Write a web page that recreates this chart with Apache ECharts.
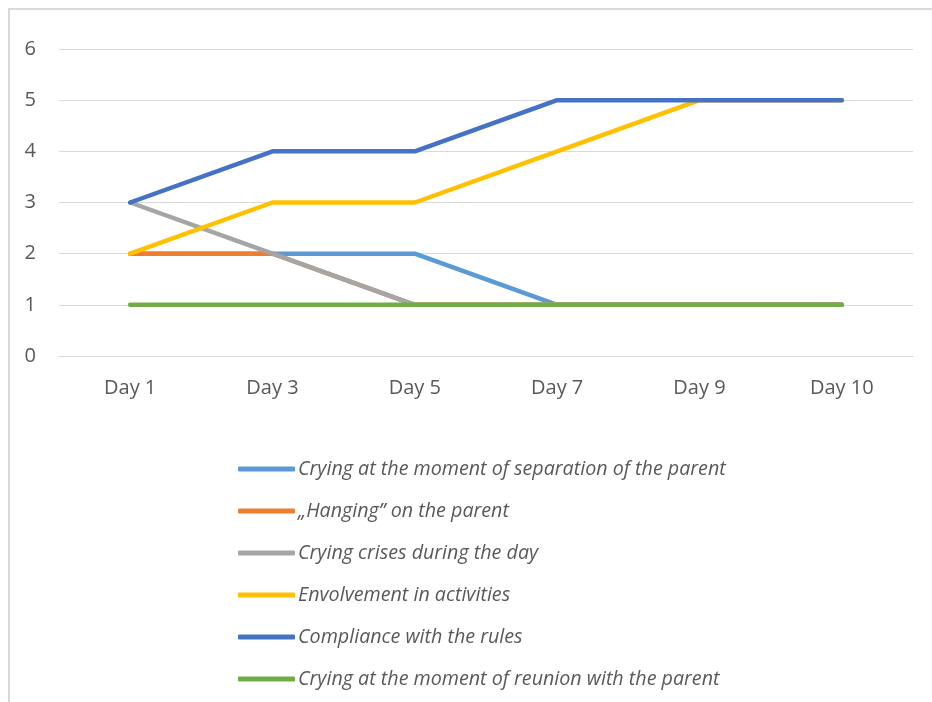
<!DOCTYPE html>
<html>
<head>
<meta charset="utf-8">
<script src="https://cdn.jsdelivr.net/npm/echarts@6/dist/echarts.min.js"></script>
<style>
  html, body { margin: 0; padding: 0; background: #fff; }
  #chart { width: 932px; height: 702px; }
</style>
</head>
<body>
<div id="chart"></div>
<script>
const days = ['Day 1', 'Day 3', 'Day 5', 'Day 7', 'Day 9', 'Day 10'];

const cryingSeparation = [2, 2, 2, 1, 1, 1];
const hangingOnParent  = [2, 2, 1, 1, 1, 1];
const cryingCrises     = [3, 2, 1, 1, 1, 1];
const involvement      = [2, 3, 3, 4, 5, 5];
const compliance       = [3, 4, 4, 5, 5, 5];
const cryingReunion    = [1, 1, 1, 1, 1, 1];

const seriesNames = [
  'Crying at the moment of separation of the parent',
  '\u201EHanging\u201D on the parent',
  'Crying crises during the day',
  'Envolvement in activities',
  'Compliance with the rules',
  'Crying at the moment of reunion with the parent'
];
const seriesData = [cryingSeparation, hangingOnParent, cryingCrises, involvement, compliance, cryingReunion];
const colors = ['#5B9BD5', '#ED7D31', '#A5A5A5', '#FFC000', '#4472C4', '#70AD47'];

const font = '"Open Sans", "Noto Sans", sans-serif';

const chart = echarts.init(document.getElementById('chart'), null, { renderer: 'canvas' });

chart.setOption({
  animation: false,
  backgroundColor: '#ffffff',
  color: colors,
  graphic: [{
    type: 'rect',
    shape: { x: 9, y: 9, width: 960, height: 740 },
    style: { fill: 'none', stroke: '#d9d9d9', lineWidth: 2 },
    silent: true
  }],
  grid: { left: 59, right: 19, top: 49, bottom: 346 },
  xAxis: {
    type: 'category',
    data: days,
    boundaryGap: true,
    axisLine: { show: true, lineStyle: { color: '#d9d9d9', width: 1 } },
    axisTick: { show: false },
    axisLabel: { color: '#595959', fontSize: 20, fontFamily: font, margin: 22 }
  },
  yAxis: {
    type: 'value',
    min: 0, max: 6, interval: 1,
    axisLine: { show: false },
    axisTick: { show: false },
    splitLine: { lineStyle: { color: '#d9d9d9', width: 1 } },
    axisLabel: { color: '#595959', fontSize: 20, fontFamily: font, margin: 23 }
  },
  legend: {
    orient: 'vertical',
    left: 238,
    top: 458,
    padding: 0,
    itemWidth: 57,
    itemHeight: 5,
    itemGap: 20,
    icon: 'roundRect',
    textStyle: { color: '#595959', fontSize: 19.7, fontStyle: 'italic', fontFamily: font, lineHeight: 22, padding: [0, 0, 0, -2] },
    data: seriesNames
  },
  series: seriesNames.map((name, i) => ({
    name: name,
    type: 'line',
    data: seriesData[i],
    symbol: 'none',
    lineStyle: { width: 4.5, color: colors[i], cap: 'round', join: 'round' },
    itemStyle: { color: colors[i] }
  }))
});
</script>
</body>
</html>
